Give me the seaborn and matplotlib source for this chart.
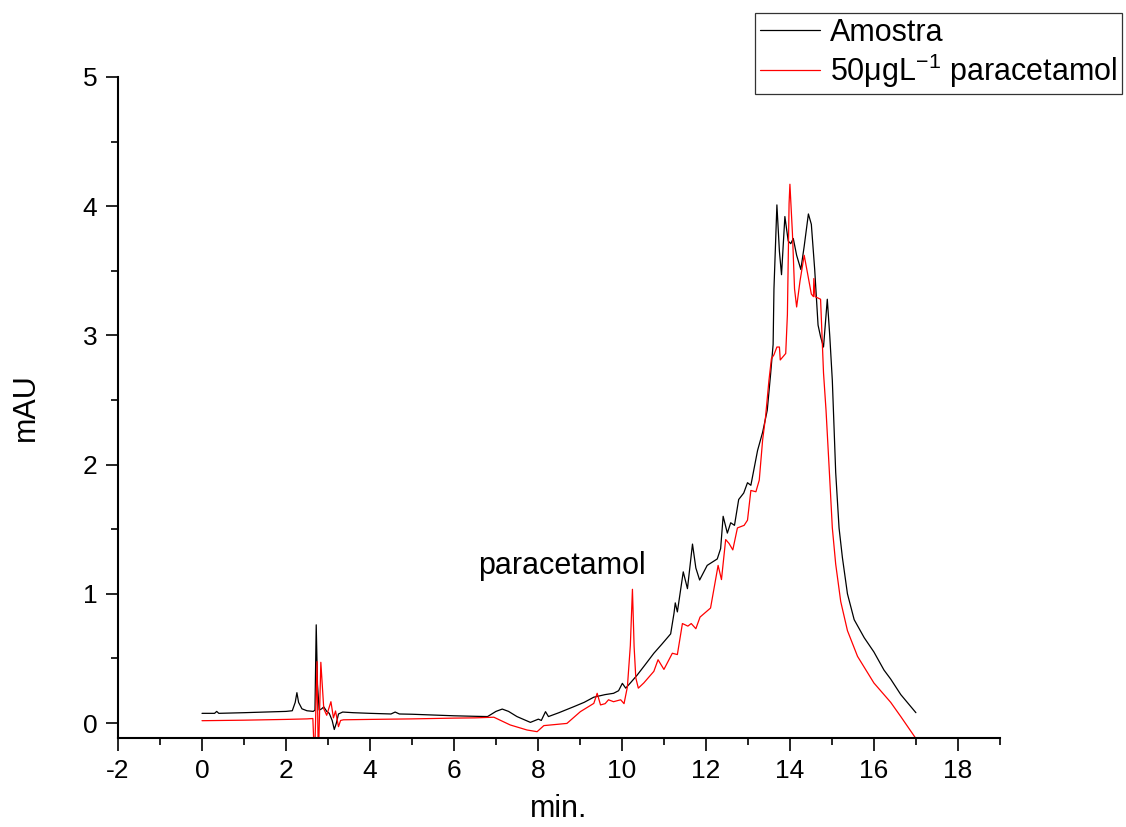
import matplotlib
matplotlib.use("Agg")
import matplotlib.pyplot as plt
from matplotlib.ticker import MultipleLocator
import seaborn as sns

# chromatogram (min, mAU)
amostra_t = [0, 0.3, 0.35, 0.4, 1.0, 1.5, 2.0, 2.15, 2.22, 2.26, 2.3, 2.38, 2.5, 2.65,
             2.69, 2.72, 2.75, 2.79, 2.85, 2.9, 2.97, 3.03, 3.1, 3.15, 3.2, 3.25, 3.35,
             3.6, 4.0, 4.5, 4.6, 4.7, 5.0, 5.5, 6.0, 6.5, 6.8, 7.0, 7.15, 7.3, 7.5, 7.82,
             8.01, 8.08, 8.18, 8.25, 8.5, 8.85, 9.1, 9.33, 9.6, 9.8, 9.92, 10.01, 10.09,
             10.2, 10.36, 10.55, 10.76, 10.95, 11.16, 11.24, 11.27, 11.32, 11.46, 11.56,
             11.68, 11.76, 11.85, 12.03, 12.27, 12.35, 12.41, 12.51, 12.59, 12.68, 12.78,
             12.9, 12.99, 13.07, 13.23, 13.35, 13.46, 13.54, 13.6, 13.62, 13.69, 13.75,
             13.8, 13.88, 13.96, 14.02, 14.08, 14.16, 14.26, 14.34, 14.44, 14.51, 14.59,
             14.67, 14.73, 14.8, 14.89, 14.95, 15.01, 15.09, 15.17, 15.25, 15.37, 15.53,
             15.77, 16.0, 16.24, 16.4, 16.64, 17.0]
amostra_mau = [0.075, 0.075, 0.09, 0.075, 0.08, 0.085, 0.09, 0.095, 0.16, 0.235, 0.16,
               0.11, 0.095, 0.09, 0.1, 0.76, 0.3, 0.1, 0.11, 0.125, 0.09, 0.075, 0.02,
               -0.05, 0.0, 0.07, 0.085, 0.08, 0.075, 0.07, 0.085, 0.07, 0.068, 0.062,
               0.056, 0.052, 0.05, 0.09, 0.108, 0.09, 0.05, 0.005, 0.03, 0.02, 0.088,
               0.05, 0.08, 0.126, 0.16, 0.2, 0.22, 0.23, 0.25, 0.307, 0.27, 0.31, 0.37,
               0.45, 0.54, 0.61, 0.69, 0.85, 0.93, 0.86, 1.17, 1.04, 1.385, 1.2, 1.107,
               1.22, 1.27, 1.35, 1.60, 1.47, 1.55, 1.53, 1.73, 1.78, 1.86, 1.84, 2.11,
               2.25, 2.42, 2.7, 2.93, 3.36, 4.01, 3.65, 3.47, 3.92, 3.73, 3.71, 3.75,
               3.62, 3.51, 3.69, 3.94, 3.86, 3.51, 3.08, 2.99, 2.91, 3.28, 2.99, 2.65,
               1.94, 1.51, 1.28, 1.0, 0.80, 0.66, 0.55, 0.41, 0.34, 0.22, 0.08]

padrao_t = [0, 0.5, 1.0, 1.5, 2.0, 2.5, 2.64, 2.68, 2.74, 2.77, 2.83, 2.9, 2.97, 3.07,
            3.13, 3.18, 3.25, 3.3, 3.37, 4.0, 5.0, 6.0, 6.5, 6.95, 7.34, 7.74, 7.98,
            8.14, 8.69, 9.01, 9.33, 9.41, 9.49, 9.6, 9.68, 9.8, 9.97, 10.05, 10.13, 10.2,
            10.25, 10.29, 10.33, 10.39, 10.52, 10.76, 10.86, 11.0, 11.2, 11.32, 11.44,
            11.57, 11.65, 11.76, 11.86, 12.11, 12.29, 12.37, 12.47, 12.55, 12.64, 12.75,
            12.91, 12.99, 13.07, 13.19, 13.27, 13.35, 13.42, 13.5, 13.56, 13.62, 13.69,
            13.75, 13.77, 13.9, 13.94, 13.98, 14.0, 14.06, 14.11, 14.16, 14.24, 14.34,
            14.42, 14.51, 14.56, 14.57, 14.6, 14.73, 14.8, 14.86, 14.94, 15.01, 15.09,
            15.21, 15.37, 15.61, 16.0, 16.24, 16.4, 16.64, 17.0]
padrao_mau = [0.018, 0.02, 0.022, 0.025, 0.028, 0.032, 0.035, -0.3, 0.475, -0.3, 0.47,
              0.11, 0.06, 0.165, 0.04, 0.093, -0.028, 0.02, 0.025, 0.028, 0.032, 0.038,
              0.04, 0.045, -0.015, -0.054, -0.067, -0.02, -0.003, 0.088, 0.152, 0.23,
              0.14, 0.15, 0.18, 0.165, 0.18, 0.15, 0.28, 0.6, 1.035, 0.59, 0.35, 0.27,
              0.31, 0.40, 0.49, 0.415, 0.54, 0.53, 0.77, 0.75, 0.77, 0.73, 0.82, 0.89,
              1.22, 1.11, 1.42, 1.39, 1.34, 1.51, 1.53, 1.57, 1.80, 1.79, 1.88, 2.19,
              2.37, 2.65, 2.82, 2.85, 2.91, 2.91, 2.81, 2.86, 3.16, 4.02, 4.17, 3.79,
              3.36, 3.22, 3.42, 3.62, 3.48, 3.32, 3.30, 3.44, 3.30, 3.28, 2.71, 2.42,
              1.94, 1.51, 1.23, 0.94, 0.715, 0.516, 0.31, 0.22, 0.16, 0.05, -0.12]

sns.set_style("ticks")
plt.rcParams["font.family"] = ["Liberation Sans", "DejaVu Sans"]
plt.rcParams["mathtext.fontset"] = "custom"
plt.rcParams["mathtext.rm"] = "Liberation Sans"
plt.rcParams["mathtext.it"] = "Liberation Sans"
plt.rcParams["axes.unicode_minus"] = False
plt.rcParams["text.color"] = "black"
plt.rcParams["axes.labelcolor"] = "black"

fig = plt.figure(figsize=(11.26, 8.27), dpi=100)
ax = fig.add_axes([0.1048, 0.1076, 0.7832, 0.7993])

sns.lineplot(x=amostra_t, y=amostra_mau, sort=False, estimator=None,
             color="black", lw=0.9, label="Amostra", ax=ax)
sns.lineplot(x=padrao_t, y=padrao_mau, sort=False, estimator=None,
             color="red", lw=0.9, label="50\u03bcgL$^{-1}$ paracetamol", ax=ax)

ax.set_xlim(-2, 19)
ax.set_ylim(-0.116, 5)
ax.xaxis.set_major_locator(MultipleLocator(2))
ax.xaxis.set_minor_locator(MultipleLocator(1))
ax.yaxis.set_major_locator(MultipleLocator(1))
ax.yaxis.set_minor_locator(MultipleLocator(0.5))
ax.tick_params(which="major", direction="out", length=9, width=1.2, labelsize=19,
               color="black", labelcolor="black", pad=6)
ax.tick_params(which="minor", direction="out", length=5, width=1.2, color="black")
sns.despine(ax=ax)
for s in ["left", "bottom"]:
    ax.spines[s].set_linewidth(1.5)
    ax.spines[s].set_color("black")

ax.set_xlabel("min.", fontsize=22, labelpad=8)
ax.set_ylabel("mAU", fontsize=22, labelpad=30)

ax.text(8.56, 1.215, "paracetamol", fontsize=22, ha="center", va="center")

leg = ax.legend(loc="upper right", bbox_to_anchor=(0.9964, 0.984),
                bbox_transform=fig.transFigure, fontsize=22, frameon=True,
                fancybox=False, shadow=False, handlelength=1.95, handletextpad=0.35,
                borderpad=0.15, labelspacing=0.12, borderaxespad=0)
leg.get_frame().set_edgecolor("black")
leg.get_frame().set_linewidth(0.9)

fig.savefig("out.png", dpi=100)
plt.close(fig)
